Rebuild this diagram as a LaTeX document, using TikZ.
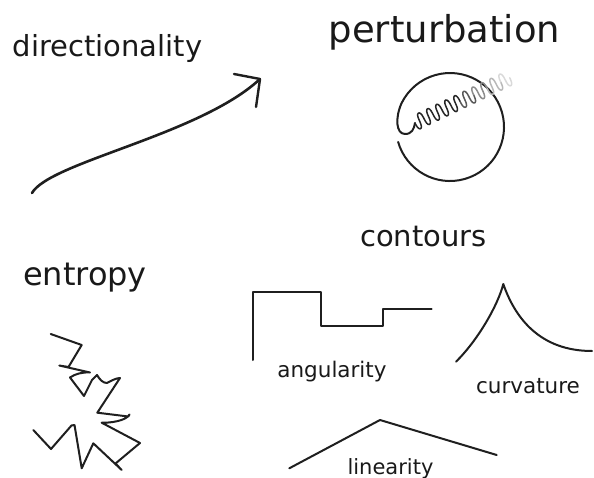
\documentclass[tikz,border=0pt]{standalone}
\usepackage{fontspec}
\setmainfont{DejaVu Sans}
\begin{document}
\begin{tikzpicture}[x=1pt,y=-1pt,
  lbl/.style={inner sep=0pt, anchor=base, text=black!90},
  ink/.style={draw=black!88, line width=2pt, line join=round, line cap=round}]
\useasboundingbox (0,0) rectangle (594,478);
% labels
\node[lbl, font=\fontsize{29}{34}\selectfont] (dir) at (107.5,57) {directionality};
\node[lbl, font=\fontsize{37}{44}\selectfont] (pert) at (444.5,43) {perturbation};
\node[lbl, font=\fontsize{32}{38}\selectfont] (entr) at (85,285) {entropy};
\node[lbl, font=\fontsize{29}{34}\selectfont] (cont) at (423.5,247) {contours};
\node[lbl, font=\fontsize{21.5}{26}\selectfont] (ang) at (332,377) {angularity};
\node[lbl, font=\fontsize{21.5}{26}\selectfont] (curv) at (528,393) {curvature};
\node[lbl, font=\fontsize{21}{25}\selectfont] (lin) at (390.5,474) {linearity};
% directionality arrow
\coordinate (a0) at (32,193);
\coordinate (tip) at (260,79);
\draw[ink, line width=2.6pt] (a0) .. controls (50,162) and (200,135) .. (tip);
\draw[ink, line width=2.4pt] (234,74) -- (tip) -- (256,107);
% perturbation circle + coil
\draw[ink] (398.1,141.9) arc[start angle=164, end angle=-154, radius=54]
  .. controls (395,118) and (396,134) .. (405,134)
  .. controls (412,134) and (414,129) .. (415,123);
\begin{scope}[shift={(415,123)}, rotate=25.5]
  \foreach \a/\b/\c in {0/5/black!85, 5/6.5/black!65, 6.5/8/black!45, 8/9.5/black!28, 9.5/10.5/black!15}
    \draw[\c, line width=1.5pt, line cap=round] plot[domain=\a:\b, samples=90, smooth]
      ({10*\x - 0.72*sin(720*\x)}, {7.5*sin(360*\x)});
\end{scope}
% entropy scribble
\draw[ink] (50.7,334) -- (81.7,345) -- (68.5,367) -- (59.3,365.5) -- (90,372.5)
  .. controls (82,372) and (75,374) .. (70,377.5)
  -- (84,396) -- (92,380) -- (97,375)
  .. controls (100,380) and (103,383) .. (107,383)
  .. controls (111,381) and (116,378) .. (120,378)
  -- (97.3,412.7) -- (128.3,416.5) -- (129.5,414.5)
  .. controls (126,421) and (110,423) .. (101.7,422.7)
  -- (140,443) -- (115.5,463.5) -- (121.7,470) -- (93.3,443.3)
  -- (81.7,468.3) -- (74.5,425) -- (71.5,425.5) -- (51,449) -- (33.3,430);
% angularity
\draw[ink] (252.7,360) -- (252.7,292.3) -- (321,292.3) -- (321,326) -- (382.7,326)
  -- (382.7,309.3) -- (431.7,309.3);
% curvature
\coordinate (cpk) at (503.3,284);
\draw[ink] (456,361.7) .. controls (478,340) and (498,305) .. (cpk)
  .. controls (515,318) and (540,351) .. (592,351);
% linearity
\draw[ink] (289.3,468.3) -- (380,420) -- (496.7,455);
\end{tikzpicture}
\end{document}
